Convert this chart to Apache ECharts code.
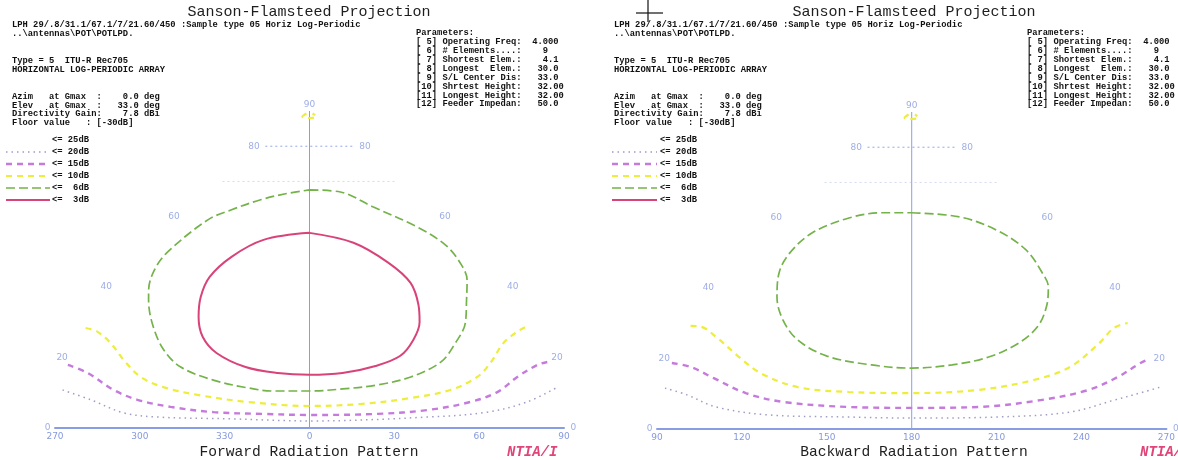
<!DOCTYPE html>
<html>
<head>
<meta charset="utf-8">
<script src="https://cdn.jsdelivr.net/npm/echarts@6/dist/echarts.min.js"></script>
<style>
  html, body { margin: 0; padding: 0; background: #ffffff; }
  #chart { width: 1178px; height: 460px; }
</style>
</head>
<body>
<div id="chart"></div>
<script>
// Azimuth tick labels along the horizon of each hemisphere
const relAzTicks = [-90, -60, -30, 0, 30, 60, 90];
const forwardAzLabels = ['270', '300', '330', '0', '30', '60', '90'];
const backwardAzLabels = ['90', '120', '150', '180', '210', '240', '270'];
// Elevation parallels labelled at the projection boundary
const elevationTicks = [20, 40, 60, 80];
const faintParallels = [70, 80];

// Gain contours, [relative azimuth, elevation] in degrees
const fwd3dB = [[0,55.4],[25.6,52.6],[40.9,46.9],[47.5,41.2],[47.0,34.9],[45.0,30.1],[40.5,25.0],[34.3,20.5],[24.5,17.6],[12.1,15.6],[0,15.1],[-11.7,15.6],[-23.7,17.3],[-35.3,21.3],[-42.0,25.9],[-46.0,31.5],[-48.3,37.2],[-48.2,42.9],[-41.7,48.6],[-27.3,53.4],[0,55.4]];
const fwd6dB = [[0,67.6],[28,67.0],[49,62.8],[70,57.1],[78,52],[78,47],[75,42],[69,36.4],[63.5,29.8],[56.5,24.1],[49,18.7],[37,14.5],[24.5,12.2],[12,11.1],[0,10.5],[-13,10.5],[-22.3,11.4],[-35,13.6],[-47.7,17.3],[-55.7,22.2],[-63.6,29.3],[-70.7,36.4],[-73.4,39.2],[-77.4,44.9],[-78,50],[-70,59.1],[-59,61.9],[-40.6,64.8],[-21.3,66.5],[0,67.6]];
const fwd10dB = [[-90,28.4],[-84.3,27.3],[-77,24.1],[-69.6,19.3],[-61.7,14.5],[-52.7,11.6],[-40.1,9.4],[-22.1,7.4],[0,6.25],[18.1,6.8],[36.1,8.5],[50.7,10.8],[61.3,14.5],[67.5,18.5],[75.1,24.1],[82.6,27.3],[89.3,29.3]];
const fwd10dBZenith = [[-90,89.3],[-90,88.4],[0,88.0],[90,88.4],[90,89.3]];
const fwd15dB = [[-89.8,17.9],[-81.4,15.6],[-70.5,10.8],[-61.4,8.0],[-49.4,6.0],[-34,4.5],[-16.3,4.0],[0,3.7],[24,4.0],[41.9,5.1],[57.4,7.4],[67.5,10.2],[75.9,14.5],[84.7,17.9],[88.8,18.75]];
const fwd20dB = [[-88.9,10.8],[-78.1,8.0],[-65.9,4.3],[-53.7,3.1],[-27.9,2.6],[0,2.0],[41.7,3.1],[63.1,4.5],[77.6,7.4],[89.5,11.6]];

const bwd6dB = [[0,61.4],[34.2,60.2],[54.2,56.5],[63.9,50.9],[64.5,44.3],[63.3,40.3],[57.9,34.7],[50.8,29.0],[41.5,24.4],[29.3,20.5],[15,18.2],[0,17.3],[-15,18.2],[-32,20.7],[-44.6,25.3],[-53.1,31.0],[-60,37.5],[-65.5,44.3],[-67,50],[-62.3,55.7],[-44.3,59.9],[-21.7,61.4],[0,61.4]];
const bwd10dB = [[-89.6,29.3],[-84.9,29.0],[-76.9,26.1],[-65.2,20.5],[-55.6,15.9],[-41.2,11.9],[-22.6,10.5],[0,10.2],[24,11.1],[44.4,13.9],[58.7,17.6],[72.8,24.4],[81.5,28.7],[88.2,30.1]];
const bwd10dBZenith = [[-90,89.3],[-90,88.4],[0,88.0],[90,88.4],[90,89.3]];
const bwd15dB = [[-89.5,18.75],[-81.9,17.6],[-72.4,14.5],[-59.6,10.2],[-45.9,7.7],[-22.3,6.25],[0,6.0],[23.7,6.25],[46,8.2],[63.7,11.1],[75.4,14.8],[85.4,18.75],[89.5,19.9]];
const bwd20dB = [[-89,11.6],[-80.6,9.7],[-69.5,6.25],[-50.8,4.0],[-22.2,3.4],[0,3.1],[29.9,3.4],[56.1,4.8],[72.3,8.2],[83.3,10.5],[89.8,11.9]];

// Text blocks
const titleText = 'Sanson-Flamsteed Projection';
const headerLines = ['LPH 29/.8/31.1/67.1/7/21.60/450 :Sample type 05 Horiz Log-Periodic', '..\\antennas\\POT\\POTLPD.'];
const typeLines = ['Type = 5  ITU-R Rec705', 'HORIZONTAL LOG-PERIODIC ARRAY'];
const gainLines = ['Azim   at Gmax  :    0.0 deg', 'Elev   at Gmax  :   33.0 deg', 'Directivity Gain:    7.8 dBi', 'Floor value   : [-30dB]'];
const paramLines = ['Parameters:', '[ 5] Operating Freq:  4.000', '[ 6] # Elements....:    9', '[ 7] Shortest Elem.:    4.1', '[ 8] Longest  Elem.:   30.0', '[ 9] S/L Center Dis:   33.0', '[10] Shrtest Height:   32.00', '[11] Longest Height:   32.00', '[12] Feeder Impedan:   50.0'];
const legendLabels = ['<= 25dB', '<= 20dB', '<= 15dB', '<= 10dB', '<=  6dB', '<=  3dB'];
const legendKeys = ['25dB', '20dB', '15dB', '10dB', '6dB', '3dB'];
const panelTitles = ['Forward Radiation Pattern', 'Backward Radiation Pattern'];
const creditTexts = ['NTIA/I', 'NTIA/ITS'];

const lineStyles = {
  '25dB': { color: 'rgba(255,255,255,0)', width: 1, type: 'solid' },
  '20dB': { color: '#9f9cc8', width: 1.5, type: [1.5, 4] },
  '15dB': { color: '#c57bdc', width: 2.4, type: [6, 5] },
  '10dB': { color: '#eded3c', width: 2.2, type: [6, 5] },
  '6dB':  { color: '#74b24a', width: 1.7, type: [9, 4] },
  '3dB':  { color: '#d8437a', width: 2, type: 'solid' }
};

const axisBlue = '#8a9de4';
const labelBlue = '#8599de';
const rad = Math.PI / 180;
// Sanson-Flamsteed (sinusoidal) projection
const proj = p => [p[0] * Math.cos(p[1] * rad), p[1]];

function contour(idx, pts, key) {
  const ls = lineStyles[key];
  return {
    type: 'line', xAxisIndex: idx, yAxisIndex: idx, data: pts.map(proj),
    smooth: 0.35, symbol: 'none', silent: true, z: 4,
    lineStyle: { color: ls.color, width: ls.width, type: ls.type }
  };
}

function frameSeries(idx) {
  const s = [];
  // central meridian
  s.push({ type: 'line', xAxisIndex: idx, yAxisIndex: idx, data: [[0, 0], [0, 90]], symbol: 'none', silent: true, z: 2,
    lineStyle: { color: axisBlue, width: 1 } });
  // faint parallels
  faintParallels.forEach(e => {
    const w = 90 * Math.cos(e * rad);
    s.push({ type: 'line', xAxisIndex: idx, yAxisIndex: idx, data: [[-w, e], [w, e]], symbol: 'none', silent: true, z: 2,
      lineStyle: { color: e === 80 ? axisBlue : '#b9c2e6', width: 1, type: [2, 3], opacity: e === 80 ? 0.9 : 0.6 } });
  });
  // elevation labels on the boundary
  const lab = [];
  elevationTicks.forEach(e => {
    const w = 90 * Math.cos(e * rad);
    lab.push({ value: [-w, e], label: { position: 'left', distance: e === 80 ? 5 : 2 } });
    lab.push({ value: [w, e], label: { position: 'right', distance: e === 80 ? 5 : 2 } });
  });
  lab.push({ value: [0, 90], label: { position: 'top', distance: 1 } });
  lab.push({ value: [-90, 0], label: { position: 'left', distance: 4 } });
  lab.push({ value: [90, 0], label: { position: 'right', distance: 6 } });
  s.push({ type: 'scatter', xAxisIndex: idx, yAxisIndex: idx, data: lab, symbol: 'circle', symbolSize: 1, silent: true, z: 5,
    itemStyle: { color: 'rgba(0,0,0,0)' },
    label: { show: true, formatter: p => String(p.value[1]), color: labelBlue, fontSize: 9, fontFamily: 'DejaVu Sans' } });
  return s;
}

const series = [
  ...frameSeries(0),
  contour(0, fwd20dB, '20dB'),
  contour(0, fwd15dB, '15dB'),
  contour(0, fwd10dB, '10dB'),
  contour(0, fwd10dBZenith, '10dB'),
  contour(0, fwd6dB, '6dB'),
  contour(0, fwd3dB, '3dB'),
  ...frameSeries(1),
  contour(1, bwd20dB, '20dB'),
  contour(1, bwd15dB, '15dB'),
  contour(1, bwd10dB, '10dB'),
  contour(1, bwd10dBZenith, '10dB'),
  contour(1, bwd6dB, '6dB')
];

function azAxis(idx, labels) {
  return {
    type: 'value', gridIndex: idx, min: -90, max: 90, interval: 30,
    axisLine: { show: true, lineStyle: { color: axisBlue, width: 2 } },
    axisTick: { show: false }, splitLine: { show: false },
    axisLabel: { color: labelBlue, fontSize: 9, fontFamily: 'DejaVu Sans', margin: 4,
      formatter: v => labels[relAzTicks.indexOf(v)] }
  };
}
function elAxis(idx) {
  return { type: 'value', gridIndex: idx, min: 0, max: 90, show: false };
}

// Text and legend graphics for one panel
const small = 'bold 8.8px "Liberation Mono"';
function txt(x, y, text, font, fill, align) {
  return { type: 'text', silent: true, z: 10,
    style: { x, y, text, font, fill: fill || '#111111', textAlign: align || 'left', align: align || 'left',
      textVerticalAlign: 'middle', verticalAlign: 'middle' } };
}
function panelGraphics(p, x0, cx, paramX, legendLineX1, legendLineX2, legendTextX, creditX) {
  const g = [];
  g.push(txt(cx, 12, titleText, '15px "Liberation Mono"', '#1e1e1e', 'center'));
  headerLines.forEach((t, i) => g.push(txt(x0, 25 + i * 8.5, t, small)));
  typeLines.forEach((t, i) => g.push(txt(x0, 61 + i * 8.5, t, small)));
  gainLines.forEach((t, i) => g.push(txt(x0, 97 + i * 8.6, t, small)));
  paramLines.forEach((t, i) => g.push(txt(paramX, 33 + i * 8.9, t, small)));
  legendLabels.forEach((t, i) => {
    const y = 140 + i * 12;
    const ls = lineStyles[legendKeys[i]];
    g.push({ type: 'line', silent: true, z: 10,
      shape: { x1: legendLineX1, y1: y, x2: legendLineX2, y2: y },
      style: { stroke: ls.color, lineWidth: ls.width, lineDash: Array.isArray(ls.type) ? ls.type : null } });
    g.push(txt(legendTextX, y, t, small));
  });
  g.push(txt(cx, 452, panelTitles[p], '14.6px "Liberation Mono"', '#1e1e1e', 'center'));
  g.push(txt(creditX, 452, creditTexts[p], 'italic bold 14px "Liberation Mono"', '#e0457a'));
  return g;
}

const graphic = [
  ...panelGraphics(0, 12, 309, 416, 6, 50, 52, 507),
  ...panelGraphics(1, 614, 914, 1027, 612, 657, 660, 1140),
  // registration mark
  { type: 'line', silent: true, z: 11, shape: { x1: 648, y1: 0, x2: 648, y2: 22 }, style: { stroke: '#111', lineWidth: 1.2 } },
  { type: 'line', silent: true, z: 11, shape: { x1: 636, y1: 13, x2: 663, y2: 13 }, style: { stroke: '#111', lineWidth: 1.2 } }
];

const chart = echarts.init(document.getElementById('chart'));
chart.setOption({
  animation: false,
  backgroundColor: '#ffffff',
  grid: [
    { left: 55, top: 111, width: 509, height: 317 },
    { left: 657, top: 112, width: 518, height: 317 }
  ],
  xAxis: [azAxis(0, forwardAzLabels), azAxis(1, backwardAzLabels)],
  yAxis: [elAxis(0), elAxis(1)],
  series,
  graphic
});
</script>
</body>
</html>
